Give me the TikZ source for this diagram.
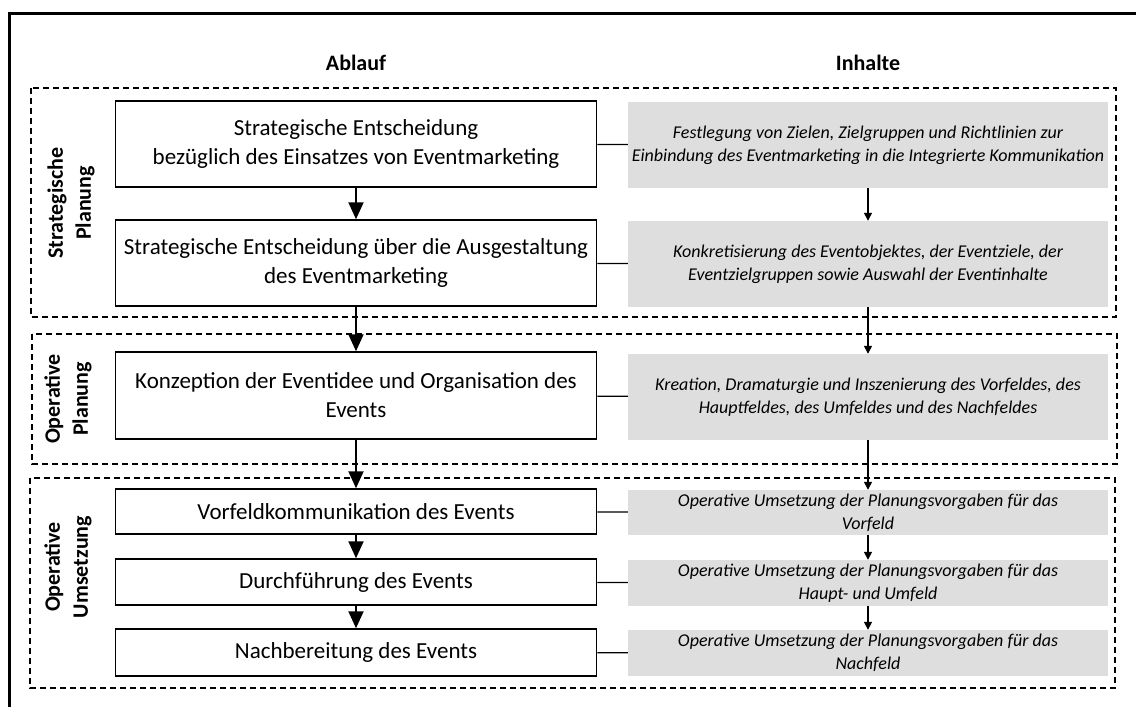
\documentclass[tikz,border=0pt]{standalone}
\usepackage{fontspec}
\setmainfont{Carlito}
\usetikzlibrary{arrows.meta}
\definecolor{inhaltgrau}{RGB}{222,222,222}
\tikzset{
  ablauf/.style={draw, line width=1.5pt, minimum width=481pt, align=center,
    inner sep=0pt, font=\fontsize{23}{29}\selectfont},
  inhalt/.style={fill=inhaltgrau, minimum width=480pt, align=center,
    inner sep=0pt, font=\fontsize{18}{23}\selectfont\itshape},
  phase/.style={line width=1.2pt, dash pattern=on 6pt off 4pt},
  phasetitel/.style={rotate=90, align=center, font=\bfseries\fontsize{22}{28}\selectfont},
  kopf/.style={font=\bfseries\fontsize{22}{26}\selectfont},
  pfeilab/.style={line width=2pt, -{Triangle[length=17pt,width=15pt]}},
  pfeilin/.style={line width=1.4pt, -{Triangle[length=8pt,width=8pt]}},
  verbindung/.style={line width=1.3pt}
}
\begin{document}
\begin{tikzpicture}[x=1pt,y=-1pt]
  \useasboundingbox (0,0) rectangle (1136,707);
  \draw[line width=3pt] (9,707) -- (9,13) -- (1136,13);
  \draw[phase] (31,88) rectangle (1116,317);
  \draw[phase] (32,334) rectangle (1117,464);
  \draw[phase] (30,478) rectangle (1115,688);
  \node[kopf] (kablauf) at (356,63) {Ablauf};
  \node[kopf] (kinhalte) at (868,63) {Inhalte};
  \node[phasetitel] (tsp) at (71,203) {Strategische\\Planung};
  \node[phasetitel] (top) at (68,399) {Operative\\Planung};
  \node[phasetitel] (tou) at (68,567) {Operative\\Umsetzung};
  \node[ablauf, minimum height=86pt] (a1) at (356,144) {Strategische Entscheidung\\bezüglich des Einsatzes von Eventmarketing};
  \node[ablauf, minimum height=86pt] (a2) at (356,263) {Strategische Entscheidung über die Ausgestaltung\\des Eventmarketing};
  \node[ablauf, minimum height=87pt] (a3) at (356,395.5) {Konzeption der Eventidee und Organisation des\\Events};
  \node[ablauf, minimum height=45pt] (a4) at (356,511.5) {Vorfeldkommunikation des Events};
  \node[ablauf, minimum height=46pt] (a5) at (356,582) {Durchführung des Events};
  \node[ablauf, minimum height=47pt] (a6) at (356,652.5) {Nachbereitung des Events};
  \node[inhalt, minimum height=86pt] (i1) at (868,145) {Festlegung von Zielen, Zielgruppen und Richtlinien zur\\Einbindung des Eventmarketing in die Integrierte Kommunikation};
  \node[inhalt, minimum height=86pt] (i2) at (868,264) {Konkretisierung des Eventobjektes, der Eventziele, der\\Eventzielgruppen sowie Auswahl der Eventinhalte};
  \node[inhalt, minimum height=86pt] (i3) at (868,397) {Kreation, Dramaturgie und Inszenierung des Vorfeldes, des\\Hauptfeldes, des Umfeldes und des Nachfeldes};
  \node[inhalt, minimum height=45pt] (i4) at (868,512.5) {Operative Umsetzung der Planungsvorgaben für das\\Vorfeld};
  \node[inhalt, minimum height=46pt] (i5) at (868,583) {Operative Umsetzung der Planungsvorgaben für das\\Haupt- und Umfeld};
  \node[inhalt, minimum height=46pt] (i6) at (868,653) {Operative Umsetzung der Planungsvorgaben für das\\Nachfeld};
  \draw[pfeilab] (a1) -- (a2);
  \draw[pfeilab] (a2) -- (a3);
  \draw[pfeilab] (a3) -- (a4);
  \draw[pfeilab] (a4) -- (a5);
  \draw[pfeilab] (a5) -- (a6);
  \draw[pfeilin] (i1) -- (i2);
  \draw[pfeilin] (i2) -- (i3);
  \draw[pfeilin] (i3) -- (i4);
  \draw[pfeilin] (i4) -- (i5);
  \draw[pfeilin] (i5) -- (i6);
  \draw[verbindung] (a1) -- (i1);
  \draw[verbindung] (a2) -- (i2);
  \draw[verbindung] (a3) -- (i3);
  \draw[verbindung] (a4) -- (i4);
  \draw[verbindung] (a5) -- (i5);
  \draw[verbindung] (a6) -- (i6);
\end{tikzpicture}
\end{document}
